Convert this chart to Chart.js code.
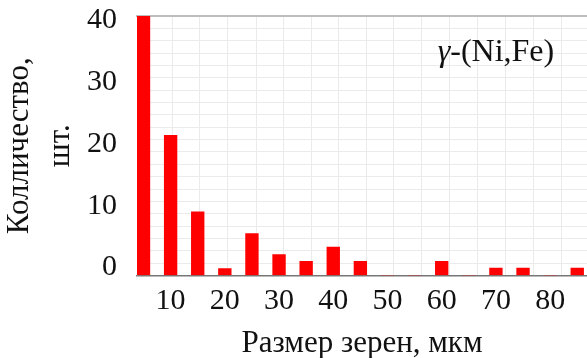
<!DOCTYPE html>
<html>
<head>
<meta charset="utf-8">
<script src="https://cdn.jsdelivr.net/npm/chart.js@4.4.0/dist/chart.umd.min.js"></script>
<style>
  html, body { margin: 0; padding: 0; background: #fff; }
  #wrap { width: 587px; height: 358px; position: relative; }
</style>
</head>
<body>
<div id="wrap"><canvas id="grainChart"></canvas></div>
<script>
// grain size bins (мкм) and counts
const sizes = [5, 10, 15, 20, 25, 30, 35, 40, 45, 50, 55, 60, 65, 70, 75, 80, 85];
const counts = [42, 22.7, 10.3, 1.1, 6.8, 3.4, 2.3, 4.6, 2.3, 0, 0, 2.3, 0, 1.2, 1.2, 0, 1.2];
const xTicks = [10, 20, 30, 40, 50, 60, 70, 80];
const xGridLines = [7.7, 13, 17.8, 23.2, 28.3, 33.3, 38.5, 43.5, 48.6, 53.6, 58.8, 63.9, 69.3, 74.4, 79.6, 84.6];
const yLabels = [0, 10, 20, 30, 40];

const xMin = 3.8;
const xMax = 86.8;
const phaseLabel = { greek: "γ", rest: "-(Ni,Fe)", x: 70, y: 36 };

Chart.defaults.font.family = "'Liberation Serif', 'Times New Roman', serif";
Chart.defaults.color = "#111";

// phase name in the upper right corner
const phasePlugin = {
    id: "phaseLabel",
    afterDraw(chart) {
        const { ctx, scales } = chart;
        const px = scales.x.getPixelForValue(phaseLabel.x);
        const py = scales.y.getPixelForValue(phaseLabel.y);
        ctx.save();
        ctx.fillStyle = "#111";
        ctx.textBaseline = "middle";
        ctx.font = "italic 32px 'Liberation Serif'";
        const wG = ctx.measureText(phaseLabel.greek).width;
        ctx.font = "32px 'Liberation Serif'";
        const wR = ctx.measureText(phaseLabel.rest).width;
        let start = px - (wG + wR) / 2;
        ctx.textAlign = "left";
        ctx.font = "italic 32px 'Liberation Serif'";
        ctx.fillText(phaseLabel.greek, start, py);
        ctx.font = "32px 'Liberation Serif'";
        ctx.fillText(phaseLabel.rest, start + wG, py);
        ctx.restore();
    }
};

const canvas = document.getElementById("grainChart");
new Chart(canvas, {
    type: "bar",
    data: {
        datasets: [{
            data: sizes.map((s, i) => ({ x: s, y: counts[i] })),
            backgroundColor: "#ff0000",
            borderWidth: 0,
            barThickness: 12.7
        }]
    },
    options: {
        responsive: true,
        maintainAspectRatio: false,
        animation: false,
        layout: { padding: { top: 16, right: 0, left: 0, bottom: 0 } },
        plugins: {
            legend: { display: false },
            tooltip: { enabled: false }
        },
        scales: {
            x: {
                type: "linear",
                offset: false,
                min: xMin,
                max: xMax,
                afterBuildTicks: s => { s.ticks = xTicks.map(v => ({ value: v })); },
                afterFit: s => { s.height = 82.5; s.paddingLeft = 0; s.paddingRight = 0; },
                grid: { display: false, drawTicks: false },
                border: { color: "#777", width: 1.5 },
                ticks: { autoSkip: false, maxRotation: 0, padding: 8, font: { size: 30 } },
                title: {
                    display: true,
                    text: "Размер зерен, мкм",
                    font: { size: 31, lineHeight: 0.9 },
                    padding: 0
                }
            },
            x2: {
                type: "linear",
                position: "top",
                offset: false,
                min: xMin,
                max: xMax,
                afterBuildTicks: s => { s.ticks = xGridLines.map(v => ({ value: v })); },
                afterFit: s => { s.height = 0; s.paddingLeft = 0; s.paddingRight = 0; },
                grid: { color: "#ebebeb", lineWidth: 1, drawTicks: false },
                border: { color: "#bdbdbd", width: 2 },
                ticks: { display: false }
            },
            y: {
                min: 0,
                max: 42,
                afterFit: s => { s.width = 137; s.paddingTop = 0; s.paddingBottom = 0; },
                grid: { color: "#ebebeb", lineWidth: 1, drawTicks: false },
                border: { color: "#999", width: 1 },
                ticks: {
                    stepSize: 2,
                    autoSkip: false,
                    padding: 20,
                    labelOffset: -8,
                    font: { size: 30 },
                    callback: v => (yLabels.includes(v) ? String(v) : "")
                },
                title: {
                    display: true,
                    text: ["Колличество,", "шт."],
                    font: { size: 31, lineHeight: 1.3 },
                    padding: 0
                }
            }
        }
    },
    plugins: [phasePlugin]
});
</script>
</body>
</html>
